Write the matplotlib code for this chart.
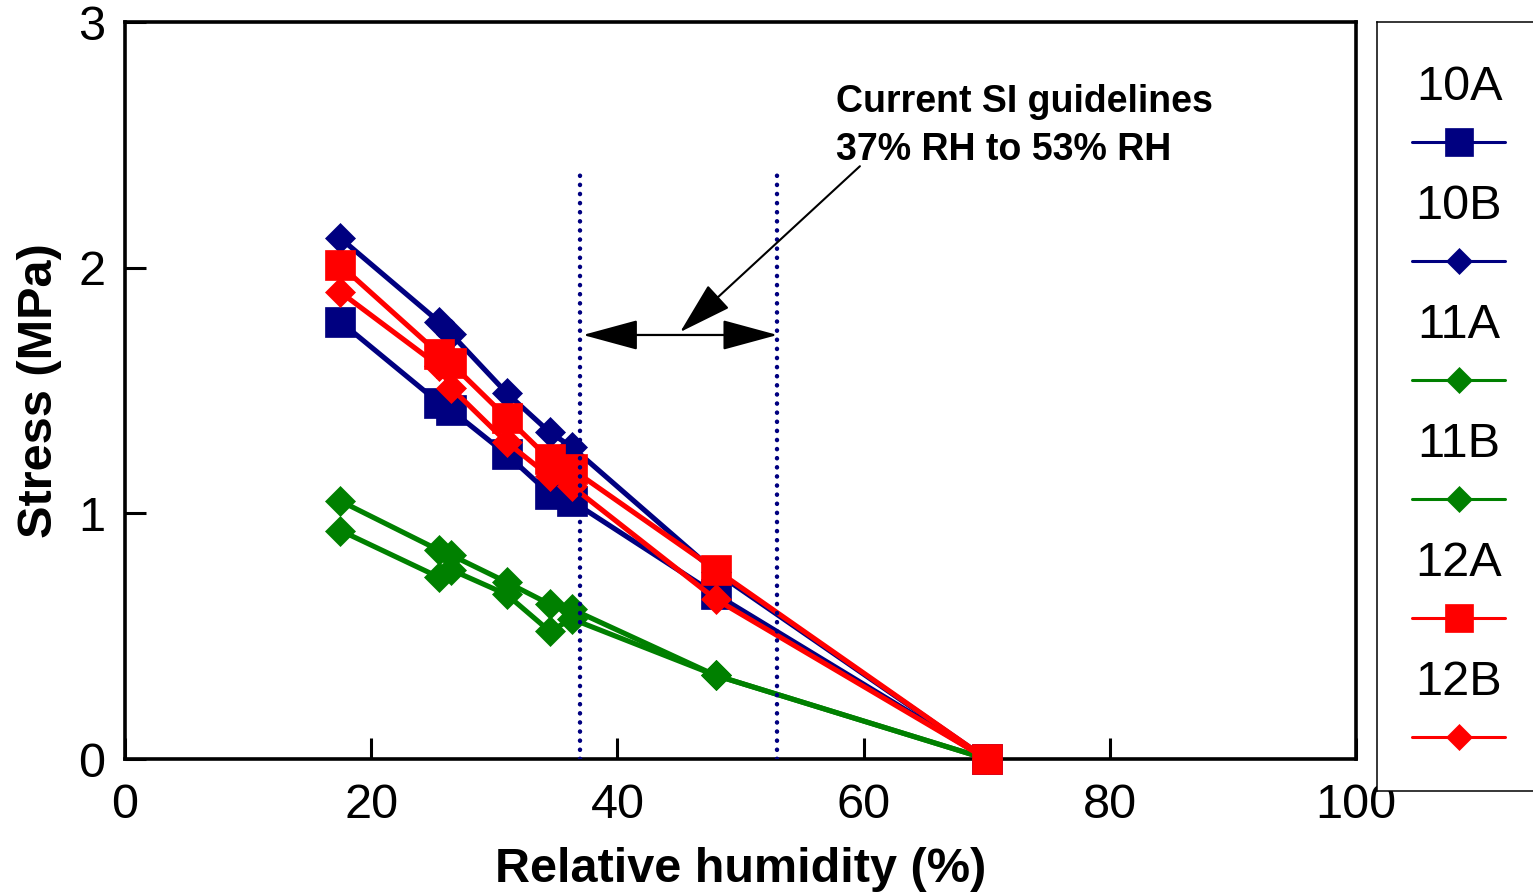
import matplotlib
matplotlib.use("Agg")
import matplotlib.pyplot as plt
from matplotlib.patches import FancyArrowPatch

plt.rcParams['font.family'] = ['Liberation Sans', 'DejaVu Sans']

# Relative humidity (%) at each measurement step
rh = [17.5, 25.5, 26.5, 31.0, 34.5, 36.3, 48.0, 70.0]

# Stress (MPa) for each specimen
stress_10A = [1.78, 1.45, 1.42, 1.24, 1.08, 1.05, 0.67, 0.0]
stress_10B = [2.12, 1.78, 1.73, 1.49, 1.33, 1.27, 0.76, 0.0]
stress_11A = [1.05, 0.85, 0.83, 0.72, 0.63, 0.61, 0.34, 0.0]
stress_11B = [0.93, 0.74, 0.77, 0.67, 0.52, 0.57, 0.34, 0.0]
stress_12A = [2.01, 1.65, 1.61, 1.39, 1.22, 1.18, 0.77, 0.0]
stress_12B = [1.90, 1.60, 1.51, 1.29, 1.15, 1.11, 0.65, 0.0]

labels = ['10A', '10B', '11A', '11B', '12A', '12B']
series = [stress_10A, stress_10B, stress_11A, stress_11B, stress_12A, stress_12B]
colors = ['#000080', '#000080', '#008000', '#008000', '#FF0000', '#FF0000']
markers = ['s', 'D', 'D', 'D', 's', 'D']

# Guideline band (% RH)
band_low, band_high = 37, 53

W, H = 1533, 896
fig = plt.figure(figsize=(W / 100, H / 100), dpi=100)

ax = fig.add_axes([125 / W, 1 - 759 / H, (1356 - 125) / W, (759 - 22) / H])

for vals, c, m in zip(series, colors, markers):
    ms = 21 if m == 's' else 15.5
    ax.plot(rh, vals, color=c, lw=3.7, marker=m, markersize=ms,
            markerfacecolor=c, markeredgecolor=c, markeredgewidth=0.5,
            clip_on=False, zorder=3)

# Guideline limits
for xv in (band_low, band_high):
    ax.plot([xv, xv], [0, 2.40], color='#000080', lw=3.2,
            linestyle=(0, (0.05, 2.0)), dash_capstyle='round', zorder=4)

# Double-headed arrow spanning the band
ax.add_patch(FancyArrowPatch((band_low + 0.2, 1.726), (band_high, 1.726),
                             arrowstyle='<|-|>,head_length=35,head_width=9.5',
                             mutation_scale=1, lw=1.6, color='black',
                             shrinkA=0, shrinkB=0, zorder=5))

# Pointer from the note to the band
ax.add_patch(FancyArrowPatch((59.7, 2.413), (45.1, 1.738),
                             arrowstyle='-|>,head_length=34,head_width=10',
                             mutation_scale=1, lw=1.5, color='black',
                             shrinkA=0, shrinkB=0, zorder=5))

ax.text(57.75, 2.633, 'Current SI guidelines', fontsize=27, fontweight='bold',
        ha='left', va='baseline')
ax.text(57.75, 2.438, f'{band_low}% RH to {band_high}% RH', fontsize=27,
        fontweight='bold', ha='left', va='baseline')

ax.set_xlim(0, 100)
ax.set_ylim(0, 3)
ax.set_xticks([0, 20, 40, 60, 80, 100])
ax.set_yticks([0, 1, 2, 3])
ax.tick_params(axis='both', direction='in', length=15, width=2.2,
               labelsize=35)
ax.tick_params(axis='x', pad=17)
ax.tick_params(axis='y', pad=14)
for sp in ax.spines.values():
    sp.set_linewidth(2.6)

ax.set_xlabel('Relative humidity (%)', fontsize=35, fontweight='bold',
              labelpad=14)
ax.set_ylabel('Stress (MPa)', fontsize=35, fontweight='bold', labelpad=12)

# Legend panel: label above each line sample
lx0, lx1 = 1377, 1560
ly_top, ly_bot = 22, 791
lax = fig.add_axes([lx0 / W, 1 - ly_bot / H, (lx1 - lx0) / W,
                    (ly_bot - ly_top) / H])
lax.set_xlim(lx0, lx1)
lax.set_ylim(ly_bot, ly_top)
lax.set_xticks([])
lax.set_yticks([])
for sp in lax.spines.values():
    sp.set_linewidth(1.1)

label_base = 100
sample_y = 142
step = 119
for i, (lab, c, m) in enumerate(zip(labels, colors, markers)):
    yb = label_base + i * step
    ys = sample_y + i * step
    lax.text(1459, yb, lab, fontsize=35, ha='center', va='baseline')
    ms = 20 if m == 's' else 13.5
    lax.plot([1412, 1459, 1505], [ys, ys, ys], color=c, lw=2.2,
             solid_capstyle='round', marker=m, markevery=[1], markersize=ms,
             markerfacecolor=c, markeredgecolor=c, markeredgewidth=0.5)

fig.savefig('out.png', dpi=100)
